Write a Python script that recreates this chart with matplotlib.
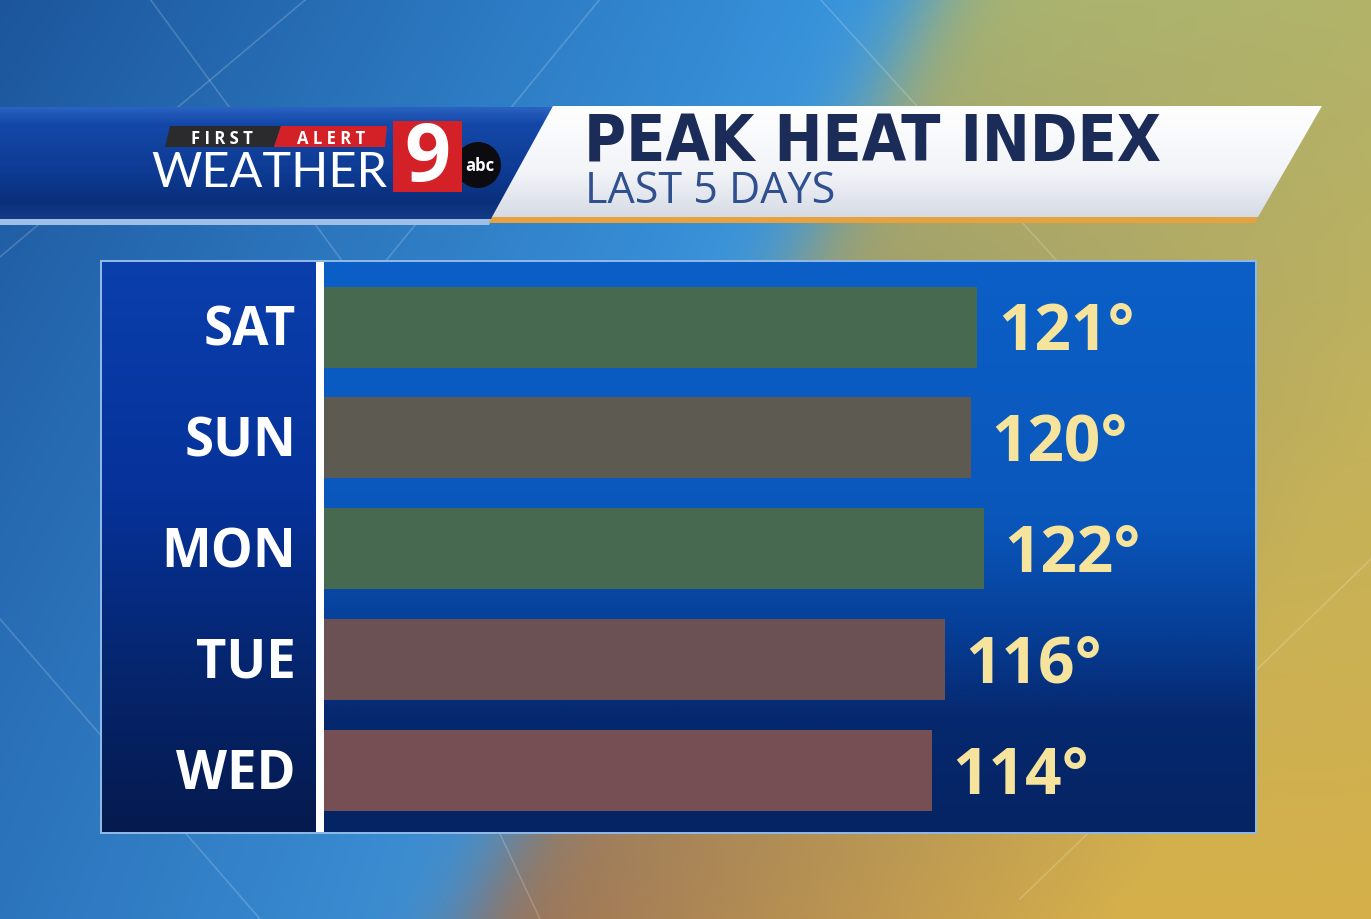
import numpy as np
import matplotlib
matplotlib.use("Agg")
import matplotlib.pyplot as plt
from matplotlib import font_manager as fm
from matplotlib.patches import Polygon, Rectangle, Circle
from matplotlib.colors import to_rgb

W, H = 1371, 920

days = ["SAT", "SUN", "MON", "TUE", "WED"]
heat_index = [121, 120, 122, 116, 114]
bar_colors = ["#46694f", "#5d5a52", "#46694f", "#6b5153", "#764f55"]
title = "PEAK HEAT INDEX"
subtitle = "LAST 5 DAYS"

FONT = ["Open Sans", "DejaVu Sans"]


def find_narrow(bold):
    # look for an installed upright condensed / narrow face, else fall back to Roboto
    for f in fm.fontManager.ttflist:
        st = str(f.stretch).lower()
        narrow = "narrow" in f.name.lower() or "condensed" in st
        isbold = str(f.weight) in ("bold", "700")
        if narrow and isbold == bold and f.style == "normal" \
                and "mono" not in f.name.lower():
            return fm.FontProperties(fname=f.fname)
    return fm.FontProperties(family="Roboto", weight="bold" if bold else "normal")


def lerp(c1, c2, t):
    c1, c2 = np.array(to_rgb(c1)), np.array(to_rgb(c2))
    t = np.clip(t, 0, 1)[..., None]
    return c1 * (1 - t) + c2 * t


def vgrad(ax, x0, x1, y0, y1, stops, clip=None, z=1):
    ys = np.linspace(0, 1, 200)
    pos = [s[0] for s in stops]
    cols = np.array([to_rgb(s[1]) for s in stops])
    img = np.stack([np.interp(ys, pos, cols[:, k]) for k in range(3)], axis=-1)[:, None, :]
    im = ax.imshow(img, extent=(x0, x1, y1, y0), aspect="auto", zorder=z,
                   interpolation="bilinear")
    if clip is not None:
        im.set_clip_path(clip)
    return im


fig = plt.figure(figsize=(W / 100, H / 100), dpi=100)
bg = fig.add_axes([0, 0, 1, 1])
bg.set_xlim(0, W)
bg.set_ylim(H, 0)
bg.axis("off")

# background: blue on the left, olive/gold on the right, diagonal split
yy, xx = np.mgrid[0:H, 0:W].astype(float)
s = xx + 0.5 * yy - 930
t = 1 / (1 + np.exp(-s / 25))
blue = lerp("#1c559b", "#3a9ae4", (xx + 0.5 * yy) / 930)
blue = blue * (1 - (yy / H)[..., None] * 0.25) + lerp("#2f6fb8", "#4a7ab0", xx / 500) * \
    (yy / H)[..., None] * 0.25
gold_top = lerp("#92b07c", "#b2b46a", xx / W)
gold_bot = lerp("#98705a", "#d6b04a", s / 650)
gold = gold_top * (1 - (yy / H)[..., None]) + gold_bot * (yy / H)[..., None]
img = blue * (1 - t[..., None]) + gold * t[..., None]
bg.imshow(img, extent=(0, W, H, 0), aspect="auto", zorder=0)

# faint diagonal lines
for (xa, ya, xb, yb) in [(-50, 300, 330, -20), (150, 0, 370, 300), (600, 0, 330, 330),
                         (820, 0, 1200, 420), (0, 620, 260, 920), (500, 835, 540, 920),
                         (1020, 900, 1371, 560)]:
    bg.plot([xa, xb], [ya, yb], color="white", alpha=0.18, lw=1.2, zorder=0.5)

# header: blue banner
bg.add_patch(Polygon([(0, 220), (492, 220), (489, 226), (0, 226)], closed=True,
                     facecolor="#9fc0e6", edgecolor="none", zorder=1))
banner = Polygon([(0, 108), (553, 108), (492, 220), (0, 220)], closed=True,
                 facecolor="none", edgecolor="none")
bg.add_patch(banner)
vgrad(bg, 0, 560, 108, 220, [(0, "#2a63c2"), (0.15, "#1448a8"), (0.6, "#0d3a92"),
                             (0.85, "#0a2f7a"), (1, "#153a86")], clip=banner, z=1)

# header: white title band with orange underline
band = Polygon([(553, 107), (1322, 107), (1258, 218), (492, 218)], closed=True,
               facecolor="none", edgecolor="none")
bg.add_patch(band)
vgrad(bg, 490, 1325, 107, 218, [(0, "#ffffff"), (0.6, "#f2f4f8"), (1, "#d6dbe4")],
      clip=band, z=1)
bg.add_patch(Polygon([(492, 218), (1258, 218), (1255, 224), (489, 224)], closed=True,
                     facecolor="#e6a23f", edgecolor="none", zorder=2))

title_font = find_narrow(True)
bg.text(584, 143, title, fontproperties=title_font, fontsize=46, color="#1b2c58",
        va="center", ha="left", zorder=3)
bg.text(585, 192, subtitle, family=FONT, fontsize=31, color="#2f4f8e",
        va="center", ha="left", zorder=3)

# logo: FIRST ALERT tag, WEATHER, 9 box, abc circle
bg.add_patch(Polygon([(170, 127), (281, 127), (274, 148), (165, 148)], closed=True,
                     facecolor="#2b2b2e", edgecolor="none", zorder=3))
bg.add_patch(Polygon([(281, 127), (387, 127), (385, 148), (274, 148)], closed=True,
                     facecolor="#d42127", edgecolor="none", zorder=3))
bg.text(222, 138.5, "F I R S T", fontsize=12, fontweight="bold", color="white",
        family=FONT, ha="center", va="center", zorder=4)
bg.text(331, 138.5, "A L E R T", fontsize=12, fontweight="bold", color="white",
        family=FONT, ha="center", va="center", zorder=4)
bg.text(269, 173, "WEATHER", fontsize=35, color="white",
        family=["Lato", "DejaVu Sans"], ha="center", va="center", zorder=4)
bg.add_patch(Circle((478, 166), 23, facecolor="#0c0c10", edgecolor="none", zorder=3))
bg.text(480, 166, "abc", fontsize=12, fontweight="bold", color="white", family=FONT,
        ha="center", va="center", zorder=5)
bg.add_patch(Rectangle((393, 122), 69, 71, facecolor="#d42127", edgecolor="none", zorder=4))
bg.text(427, 160, "9", fontsize=58, fontweight="bold", color="white", family=FONT,
        ha="center", va="center", zorder=5)

# panel
px0, px1, py0, py1, split = 102, 1255, 263, 833, 316
bg.add_patch(Rectangle((px0 - 2, py0 - 2), px1 - px0 + 4, py1 - py0 + 4,
                       facecolor="#8fb8e6", edgecolor="none", zorder=1))
vgrad(bg, px0, split, py0, py1, [(0, "#0a3fac"), (0.4, "#06329a"), (0.7, "#052670"),
                                 (1, "#051a4e")], z=2)
vgrad(bg, split + 8, px1, py0, py1, [(0, "#0b5fc6"), (0.45, "#0a57bc"), (0.65, "#063e96"),
                                     (0.8, "#06286e"), (1, "#052463")], z=2)
bg.add_patch(Rectangle((split, py0), 8, py1 - py0, facecolor="white",
                       edgecolor="none", zorder=3))

# bar axes inside the panel
ax_w = px1 - split - 8
ax = fig.add_axes([(split + 8) / W, (H - py1) / H, ax_w / W, (py1 - py0) / H])
ax.patch.set_alpha(0)
ax.axis("off")
ypos = np.arange(len(days))
ax.barh(ypos, heat_index, height=0.73, color=bar_colors, zorder=2)
ax.set_xlim(20.5, 163.7)
ax.set_ylim(4.555, -0.587)
for i, v in enumerate(heat_index):
    ax.text(v + 3.2, i + 0.05, f"{v}°", fontsize=46, fontweight="bold",
            color="#f6e39c", family=FONT, ha="left", va="center", zorder=3)
    ax.text(-28 / ax_w, i + 0.03, days[i], transform=ax.get_yaxis_transform(),
            fontsize=38, fontweight="bold", color="white", family=FONT,
            ha="right", va="center", zorder=3)

fig.savefig("out.png", dpi=100)
